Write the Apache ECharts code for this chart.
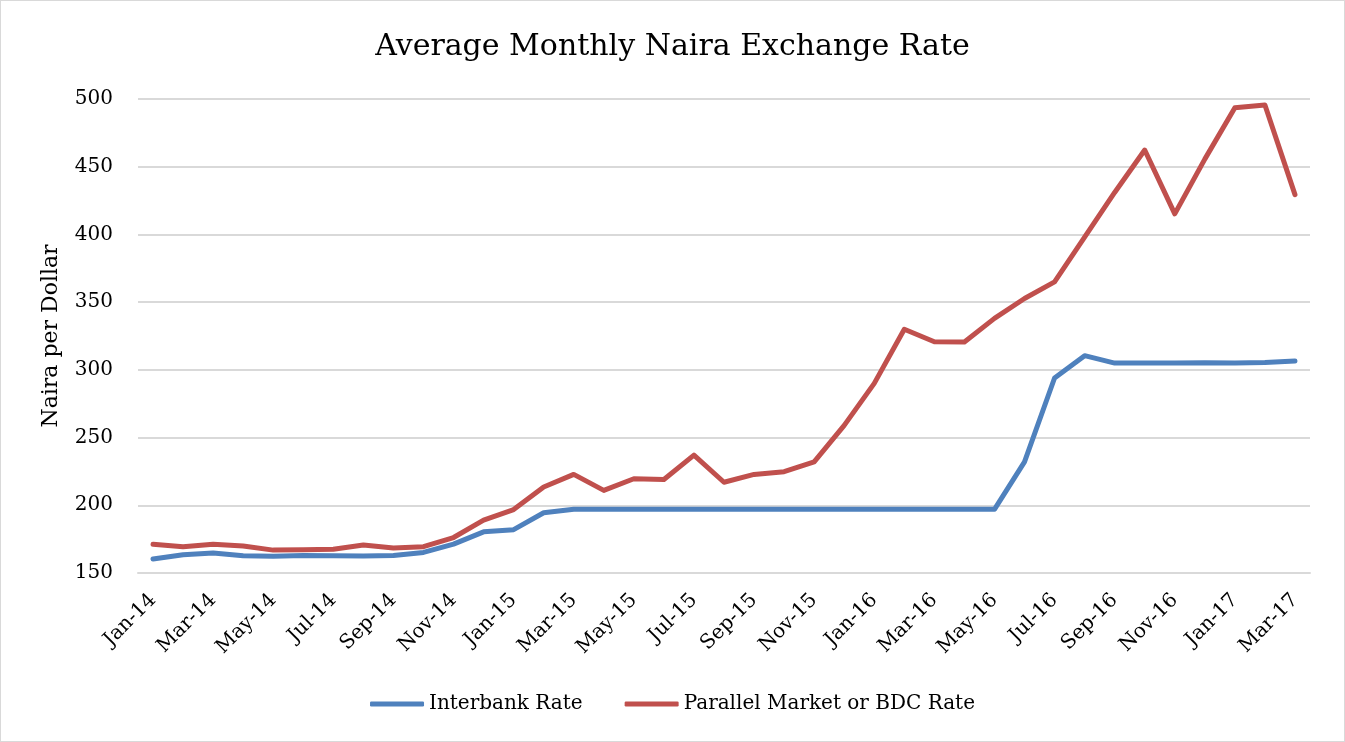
<!DOCTYPE html>
<html>
<head>
<meta charset="utf-8">
<script src="https://cdn.jsdelivr.net/npm/echarts@6/dist/echarts.min.js"></script>
<style>
  html, body { margin: 0; padding: 0; background: #fff; }
  #chart01 { width: 1345px; height: 742px; box-sizing: border-box; border: 1px solid #d9d9d9; }
</style>
</head>
<body>
<div id="chart01"></div>
<script>
// months Jan-14 .. Mar-17
var months = ['Jan-14', 'Feb-14', 'Mar-14', 'Apr-14', 'May-14', 'Jun-14', 'Jul-14', 'Aug-14', 'Sep-14', 'Oct-14', 'Nov-14', 'Dec-14',
    'Jan-15', 'Feb-15', 'Mar-15', 'Apr-15', 'May-15', 'Jun-15', 'Jul-15', 'Aug-15', 'Sep-15', 'Oct-15', 'Nov-15', 'Dec-15',
    'Jan-16', 'Feb-16', 'Mar-16', 'Apr-16', 'May-16', 'Jun-16', 'Jul-16', 'Aug-16', 'Sep-16', 'Oct-16', 'Nov-16', 'Dec-16',
    'Jan-17', 'Feb-17', 'Mar-17'];

var interbank = [160.3, 163.5, 164.7, 162.7, 162.3, 163.0, 162.7, 162.5, 163.0, 165.2, 171.3, 180.4,
    182.0, 194.5, 197, 197, 197, 197, 197, 197, 197, 197, 197, 197,
    197, 197, 197, 197, 197, 232, 294, 310.5, 305, 305, 305, 305.3,
    305, 305.5, 306.6];

var parallel = [171.3, 169.4, 171.3, 170.0, 166.9, 167.1, 167.6, 170.6, 168.4, 169.4, 176.2, 189.0,
    196.8, 213.5, 222.8, 211, 219.6, 219, 237, 217, 222.8, 224.8, 232, 259,
    290, 330, 320.8, 320.6, 338, 352.7, 365, 398, 431, 462.3, 415.2, 455.6,
    493.6, 495.6, 429.4];

var yTicks = { min: 150, max: 500, interval: 50 };

function chart01(id) {
    var myChart = echarts.init(document.getElementById(id));
    var serif = 'DejaVu Serif';
    var option = {
        animation: false,
        title: {
            text: 'Average Monthly Naira Exchange Rate',
            left: 'center',
            top: 26,
            textStyle: {
                fontFamily: serif,
                fontSize: 30,
                fontWeight: 'normal',
                color: '#000'
            }
        },
        grid: {
            left: 137,
            right: 34,
            top: 98,
            bottom: 168
        },
        legend: {
            bottom: 22,
            left: 'center',
            itemWidth: 54,
            itemHeight: 5,
            itemGap: 42,
            icon: 'roundRect',
            textStyle: {
                fontFamily: serif,
                fontSize: 20,
                color: '#000',
                padding: [0, 0, 0, 0]
            },
            data: ['Interbank Rate', 'Parallel Market or BDC Rate']
        },
        xAxis: {
            type: 'category',
            boundaryGap: true,
            data: months,
            axisLine: {
                lineStyle: { color: '#d9d9d9', width: 2 }
            },
            axisTick: {
                interval: 1,
                length: 7,
                lineStyle: { color: '#d9d9d9', width: 2 }
            },
            axisLabel: {
                interval: 1,
                rotate: 45,
                margin: 24,
                fontFamily: serif,
                fontSize: 20,
                color: '#000'
            },
            splitLine: { show: false }
        },
        yAxis: {
            type: 'value',
            min: yTicks.min,
            max: yTicks.max,
            interval: yTicks.interval,
            name: 'Naira per Dollar',
            nameLocation: 'middle',
            nameGap: 76,
            nameTextStyle: {
                fontFamily: serif,
                fontSize: 22,
                color: '#000'
            },
            axisLine: { show: false },
            axisTick: { show: false },
            axisLabel: {
                margin: 25,
                fontFamily: serif,
                fontSize: 20,
                color: '#000'
            },
            splitLine: {
                lineStyle: { color: '#d9d9d9', width: 2 }
            }
        },
        series: [
            {
                name: 'Interbank Rate',
                type: 'line',
                data: interbank,
                symbol: 'none',
                itemStyle: { color: '#4f81bd' },
                lineStyle: { color: '#4f81bd', width: 5, cap: 'round', join: 'round' }
            },
            {
                name: 'Parallel Market or BDC Rate',
                type: 'line',
                data: parallel,
                symbol: 'none',
                itemStyle: { color: '#c0504d' },
                lineStyle: { color: '#c0504d', width: 5, cap: 'round', join: 'round' }
            }
        ]
    };
    myChart.setOption(option);
    return myChart;
}

var chartInit01 = chart01('chart01');
window.addEventListener('resize', function () {
    chartInit01.resize();
});
</script>
</body>
</html>
